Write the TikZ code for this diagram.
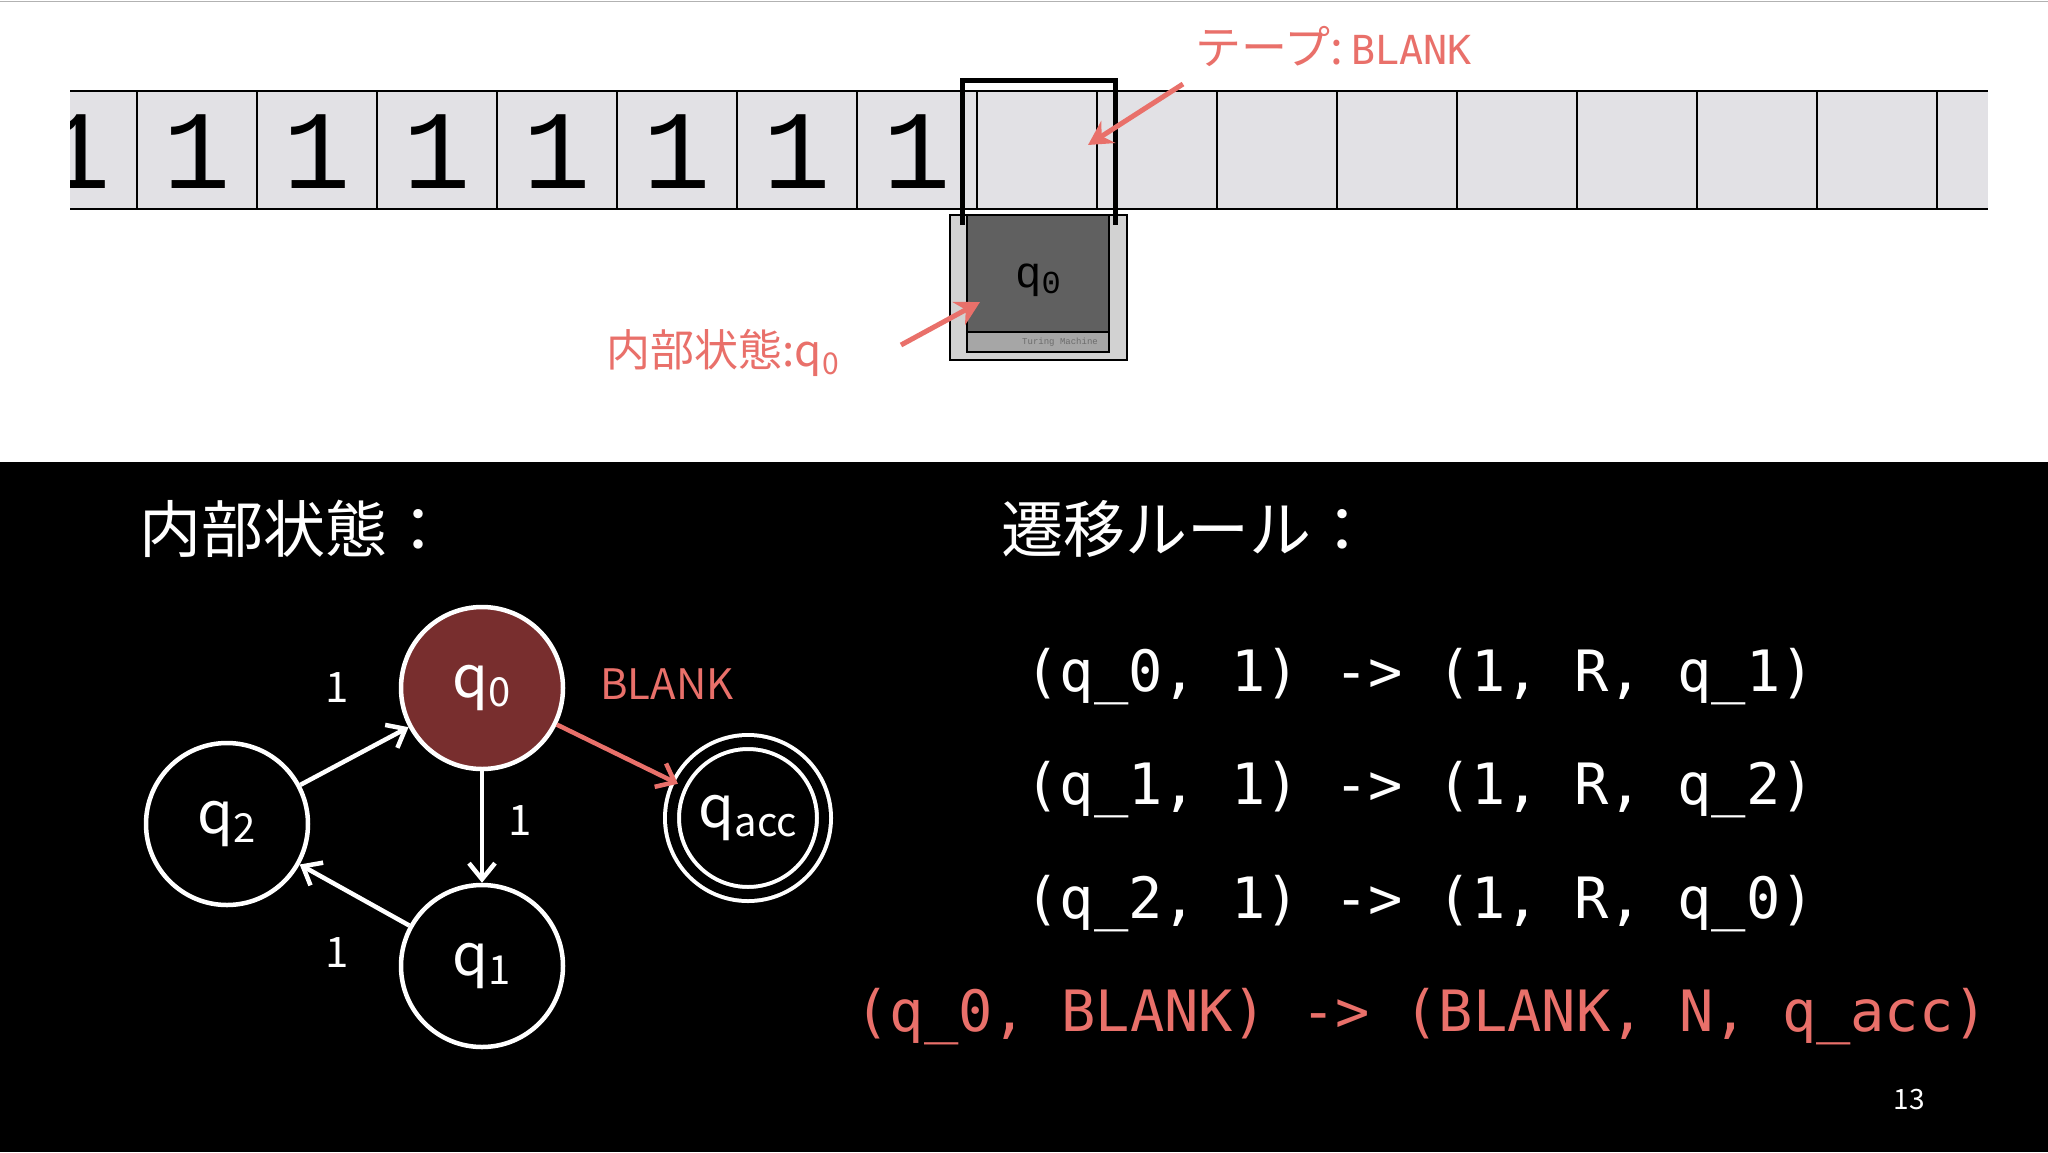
\documentclass[tikz,border=0pt]{standalone}
\usepackage{fontspec}
\setmainfont{Noto Sans CJK JP}
\newfontfamily\jp{Noto Sans CJK JP}
\newfontfamily\tmono{Liberation Mono}
\newfontfamily\cmono{DejaVu Sans Mono}
\usetikzlibrary{arrows.meta}
\definecolor{salmon}{HTML}{E9706A}
\definecolor{tapegray}{HTML}{E2E1E5}
\definecolor{qred}{HTML}{782E2E}
\newcommand{\fs}[1]{\fontsize{#1}{#1}\selectfont}
\tikzset{
  st/.style={circle,draw=white,line width=4.5pt,minimum size=162pt,inner sep=0pt,text=white,font=\jp\fs{58}},
  edge/.style={draw=white,line width=4.5pt,-{Straight Barb[length=16pt,width=26pt,line width=4.5pt]}},
  lab/.style={text=white,font=\jp\fs{42}},
  rule/.style={anchor=west,font=\cmono\fs{57},text=white},
  redarrow/.style={draw=salmon,line width=5pt,-{Stealth[length=24pt,width=26pt]}},
}
\begin{document}
\begin{tikzpicture}[x=1pt,y=-1pt]
\useasboundingbox (0,0) rectangle (2048,1152);
\fill[white] (0,0) rectangle (2048,462);
\fill[black] (0,462) rectangle (2048,1152);
\draw[gray!60,line width=1pt] (0,1) -- (2048,1);
% tape
\begin{scope}
\clip (70,90) rectangle (1988,210);
\fill[tapegray] (0,91) rectangle (1988,209);
\foreach \k in {0,...,15} \draw[black,line width=2pt] ({137+120*\k},91) -- ({137+120*\k},209);
\foreach \k in {0,...,7} \node[font=\tmono\fs{112},text=black] (d\k) at ({77+120*\k},152) {1};
\end{scope}
\draw[black,line width=2pt] (70,91) -- (1988,91) (70,209) -- (1988,209);
% head
\fill[gray!35,draw=black,line width=2pt] (950,215) rectangle (1127,360);
\fill[gray!75!black,draw=black,line width=2pt] (967,215) rectangle (1109,332);
\fill[gray!70,draw=black,line width=1.5pt] (967,332) rectangle (1109,352);
\node[font=\tmono\fs{9},text=gray!85!black] (tm) at (1060,342) {Turing Machine};
\node[font=\tmono\fs{44},text=black] (hq) at (1038,280) {q\raisebox{-6pt}{\fs{32}0}};
\draw[black,line width=5pt] (962,225) -- (962,80) -- (1115,80) -- (1115,225);
% top labels
\node[anchor=west,text=salmon,font=\jp\fs{46}] (tl) at (1192,46) {テープ:\,{\cmono\fs{40}BLANK}};
\coordinate (ta) at (1183,84);
\coordinate (tb) at (1088,145);
\draw[redarrow] (ta) -- (tb);
\node[anchor=west,text=salmon,font=\jp\fs{44}] (hl) at (603,353) {内部状態:q\raisebox{-8pt}{\fs{30}0}};
\coordinate (ha) at (901,345);
\coordinate (hb) at (980,302);
\draw[redarrow] (ha) -- (hb);
% bottom titles
\node[anchor=west,text=white,font=\jp\fs{62}] (t1) at (136,529) {内部状態：};
\node[anchor=west,text=white,font=\jp\fs{62}] (t2) at (998,529) {遷移ルール：};
% graph
\node[st,fill=qred] (q0) at (482,688) {q\raisebox{-9pt}{\fs{40}0}};
\node[st] (q2) at (227,824) {q\raisebox{-9pt}{\fs{40}2}};
\node[st] (q1) at (482,966) {q\raisebox{-9pt}{\fs{40}1}};
\node[st,double=black,double distance=10pt,line width=4pt,minimum size=152pt] (qa) at (748,818) {q\raisebox{-9pt}{\fs{40}acc}};
\draw[edge] (q2) -- (q0);
\draw[edge] (q0) -- (q1);
\draw[edge] (q1) -- (q2);
\draw[draw=salmon,line width=4.5pt,-{Straight Barb[length=16pt,width=26pt,line width=4.5pt]}] (q0) -- (qa);
\node[lab] (l1) at (337,688) {1};
\node[lab] (l2) at (520,821) {1};
\node[lab] (l3) at (337,953) {1};
\node[text=salmon,font=\jp\fs{42}] (lb) at (667,684) {BLANK};
% rules
\node[rule] (r1) at (1022,677) {(q\_0, 1) -> (1, R, q\_1)};
\node[rule] (r2) at (1022,790) {(q\_1, 1) -> (1, R, q\_2)};
\node[rule] (r3) at (1022,904) {(q\_2, 1) -> (1, R, q\_0)};
\node[rule,text=salmon] (r4) at (852,1017) {(q\_0, BLANK) -> (BLANK, N, q\_acc)};
\node[text=white,font=\jp\fs{28}] (pg) at (1909,1100) {13};
\end{tikzpicture}
\end{document}
